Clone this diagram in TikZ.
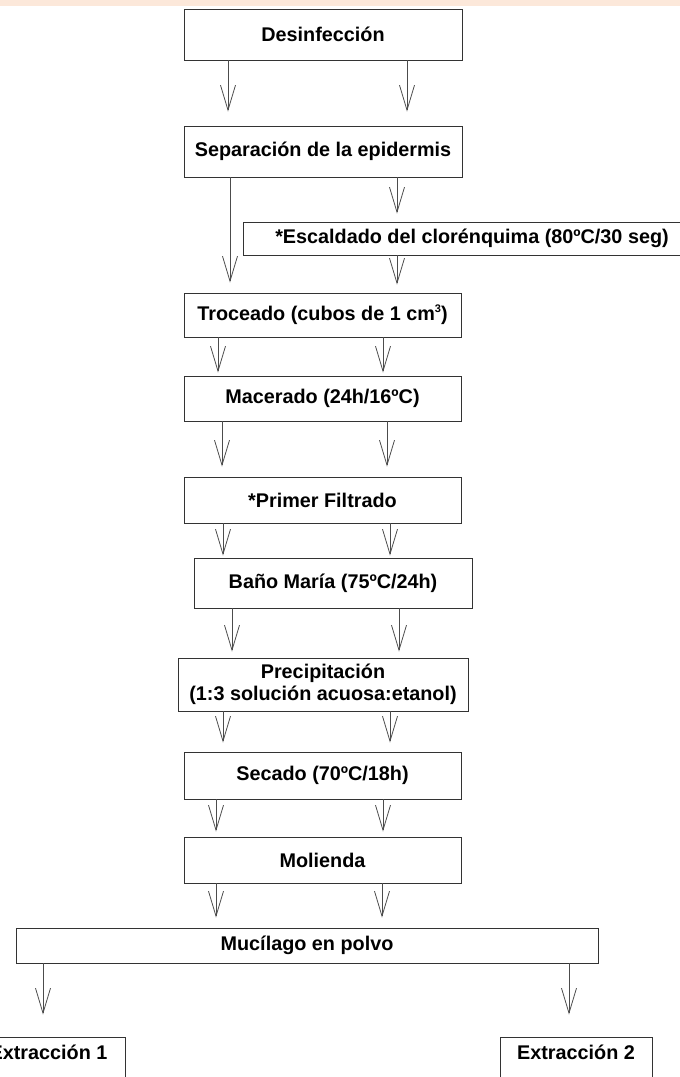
\documentclass[tikz,border=0pt]{standalone}
\usepackage{fontspec}
\setmainfont{Liberation Sans}
\usetikzlibrary{arrows.meta}
\definecolor{peach}{HTML}{FCE8DA}
\begin{document}
\begin{tikzpicture}[x=1pt,y=-1pt,
  box/.style={draw=black!80, line width=0.9pt, inner sep=0pt, align=center,
    font=\bfseries\fontsize{19.8}{22}\selectfont},
  arr/.style={draw=black!70, line width=0.8pt, -{Straight Barb[length=25pt,width=15pt]}},
]
\useasboundingbox (0,0) rectangle (680,1077);
\fill[white] (0,0) rectangle (680,1077);
\fill[peach] (0,0) rectangle (680,6);

\node[box, minimum width=278pt, minimum height=51pt] (des) at (323,34.5) {Desinfección};
\node[box, minimum width=278pt, minimum height=51pt] (sep) at (323,151.5) {Separación de la epidermis};
\node[box, minimum width=458pt, minimum height=33pt] (esc) at (472,238.5) {*Escaldado del clorénquima (80ºC/30 seg)};
\node[box, minimum width=277pt, minimum height=44pt] (tro) at (322.5,315) {Troceado (cubos de 1 cm\raisebox{8pt}{\fontsize{11}{11}\selectfont 3})};
\node[box, minimum width=277pt, minimum height=45pt] (mac) at (322.5,398.5) {Macerado (24h/16ºC)};
\node[box, minimum width=277pt, minimum height=46pt] (pri) at (322.5,500) {*Primer Filtrado};
\node[box, minimum width=278pt, minimum height=50pt] (ban) at (333,583) {Baño María (75ºC/24h)};
\node[box, minimum width=290pt, minimum height=53pt] (pre) at (323,684.5) {Precipitación\\(1:3 solución acuosa:etanol)};
\node[box, minimum width=277pt, minimum height=47pt] (sec) at (322.5,775.5) {Secado (70ºC/18h)};
\node[box, minimum width=277pt, minimum height=46pt] (mol) at (322.5,860) {Molienda};
\node[box, minimum width=582pt, minimum height=35pt] (muc) at (307,945.5) {Mucílago en polvo};
\node[box, minimum width=153pt, text height=22pt, text depth=31pt] (ex1) at (48.5,1063.5) {Extracción 1};
\node[box, minimum width=152pt, text height=22pt, text depth=31pt] (ex2) at (576,1063.5) {Extracción 2};

\draw[arr, shorten >=14pt] (des.south -| 228,0) -- (sep.north -| 228,0);
\draw[arr, shorten >=14pt] (des.south -| 407,0) -- (sep.north -| 407,0);
\draw[arr, shorten >=10pt] (sep.south -| 230,0) -- (tro.north -| 230,0);
\draw[arr, shorten >=8pt] (sep.south -| 397,0) -- (esc.north -| 397,0);
\draw[arr, shorten >=8pt] (esc.south -| 397,0) -- (tro.north -| 397,0);
\draw[arr, shorten >=3pt] (tro.south -| 218,0) -- (mac.north -| 218,0);
\draw[arr, shorten >=3pt] (tro.south -| 383,0) -- (mac.north -| 383,0);
\draw[arr, shorten >=10pt] (mac.south -| 222,0) -- (pri.north -| 222,0);
\draw[arr, shorten >=10pt] (mac.south -| 387,0) -- (pri.north -| 387,0);
\draw[arr, shorten >=2pt] (pri.south -| 223,0) -- (ban.north -| 223,0);
\draw[arr, shorten >=2pt] (pri.south -| 390,0) -- (ban.north -| 390,0);
\draw[arr, shorten >=6pt] (ban.south -| 232,0) -- (pre.north -| 232,0);
\draw[arr, shorten >=6pt] (ban.south -| 399,0) -- (pre.north -| 399,0);
\draw[arr, shorten >=9pt] (pre.south -| 223,0) -- (sec.north -| 223,0);
\draw[arr, shorten >=9pt] (pre.south -| 390,0) -- (sec.north -| 390,0);
\draw[arr, shorten >=5pt] (sec.south -| 216,0) -- (mol.north -| 216,0);
\draw[arr, shorten >=5pt] (sec.south -| 383,0) -- (mol.north -| 383,0);
\draw[arr, shorten >=10pt] (mol.south -| 216,0) -- (muc.north -| 216,0);
\draw[arr, shorten >=10pt] (mol.south -| 382,0) -- (muc.north -| 382,0);
\draw[arr, shorten >=22pt] (muc.south -| 43,0) -- (ex1.north -| 43,0);
\draw[arr, shorten >=22pt] (muc.south -| 569,0) -- (ex2.north -| 569,0);
\end{tikzpicture}
\end{document}
